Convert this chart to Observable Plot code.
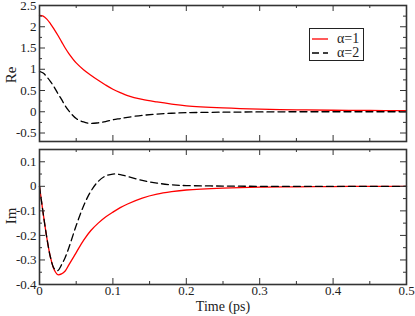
<!DOCTYPE html>
<html><head><meta charset="utf-8">
<script src="https://cdn.jsdelivr.net/npm/d3@7"></script>
<script src="https://cdn.jsdelivr.net/npm/@observablehq/plot@0.6"></script>
<style>
body{margin:0;background:#fff}
#c{position:relative;width:415px;height:316px;color:#222}
#c > div{position:absolute}
</style>
</head><body><div id="c" style="font-family:'Liberation Serif'"></div>
<script>
const time = [0,0.005,0.01,0.015,0.02,0.025,0.03,0.035,0.04,0.05,0.06,0.07,0.08,0.09,0.1,0.11,0.12,0.14,0.16,0.18,0.2,0.25,0.3,0.35,0.4,0.45,0.5];
const reAlpha1 = [2.27,2.25,2.18,2.07,1.94,1.80,1.65,1.50,1.37,1.15,0.99,0.86,0.74,0.63,0.53,0.45,0.38,0.29,0.23,0.18,0.14,0.09,0.06,0.045,0.035,0.03,0.025];
const reAlpha2 = [0.95,0.91,0.82,0.71,0.58,0.43,0.29,0.14,0.02,-0.16,-0.24,-0.275,-0.26,-0.23,-0.19,-0.16,-0.13,-0.085,-0.055,-0.035,-0.022,-0.01,-0.004,0,0,0,0];
const imAlpha1 = [0,-0.11,-0.21,-0.29,-0.34,-0.36,-0.357,-0.345,-0.32,-0.27,-0.22,-0.18,-0.15,-0.125,-0.105,-0.087,-0.072,-0.048,-0.032,-0.022,-0.015,-0.007,-0.003,-0.002,-0.001,0,0];
const imAlpha2 = [0,-0.11,-0.21,-0.29,-0.335,-0.343,-0.32,-0.29,-0.25,-0.16,-0.08,-0.02,0.02,0.042,0.05,0.048,0.04,0.024,0.013,0.006,0.003,0.001,0,0,0,0,0];

const seriesNames = ["α=1","α=2"];
const xTicks = [0,0.1,0.2,0.3,0.4,0.5];
const xMinor = [0.05,0.15,0.25,0.35,0.45];
const reTicks = [-0.5,0,0.5,1,1.5,2,2.5];
const reMinor = [-0.25,0.25,0.75,1.25,1.75,2.25];
const imTicks = [-0.4,-0.3,-0.2,-0.1,0,0.1];
const imMinor = [-0.35,-0.25,-0.15,-0.05,0.05];

const W = 415, ML = 39, MR = 9;
const innerW = W - ML - MR;
const axisColor = "#333";
const fmt = d => String(d);
const FONT = "Liberation Serif";

function tickMarks(xMaj, xMin, yMaj, yMin, innerH) {
  const big = 6, small = 3;
  const m = [];
  const s = {stroke: axisColor, strokeWidth: 1};
  m.push(Plot.tickY(yMaj, {y: d => d, insetRight: innerW - big, ...s}));
  m.push(Plot.tickY(yMaj, {y: d => d, insetLeft: innerW - big, ...s}));
  m.push(Plot.tickY(yMin, {y: d => d, insetRight: innerW - small, ...s}));
  m.push(Plot.tickY(yMin, {y: d => d, insetLeft: innerW - small, ...s}));
  m.push(Plot.tickX(xMaj, {x: d => d, insetBottom: innerH - big, ...s}));
  m.push(Plot.tickX(xMaj, {x: d => d, insetTop: innerH - big, ...s}));
  m.push(Plot.tickX(xMin, {x: d => d, insetBottom: innerH - small, ...s}));
  m.push(Plot.tickX(xMin, {x: d => d, insetTop: innerH - small, ...s}));
  return m;
}

const reData = time.map((t, i) => ({t, a1: reAlpha1[i], a2: reAlpha2[i]}));
const imData = time.map((t, i) => ({t, a1: imAlpha1[i], a2: imAlpha2[i]}));

const styleObj = {fontFamily: FONT, fontSize: "13px", color: "#222", background: "transparent", overflow: "visible"};

const topH = 146, topMT = 5, topMB = 5;
const topPlot = Plot.plot({
  width: W, height: topH, marginLeft: ML, marginRight: MR, marginTop: topMT, marginBottom: topMB,
  style: styleObj,
  x: {domain: [0, 0.5], axis: null},
  y: {domain: [-0.7, 2.5], axis: null},
  marks: [
    Plot.line(reData, {x: "t", y: "a1", stroke: "#ff0000", strokeWidth: 1.3, curve: "catmull-rom"}),
    Plot.line(reData, {x: "t", y: "a2", stroke: "#000", strokeWidth: 1.3, strokeDasharray: "7,4", curve: "catmull-rom"}),
    ...tickMarks(xTicks, xMinor, reTicks, reMinor, topH - topMT - topMB),
    Plot.axisY(reTicks, {tickSize: 0, tickPadding: 3, tickFormat: fmt, fontSize: 13, fontFamily: FONT, label: null}),
    Plot.frame({stroke: axisColor, strokeWidth: 1.6})
  ]
});

const botH = 172, botMT = 5, botMB = 32;
const botPlot = Plot.plot({
  width: W, height: botH, marginLeft: ML, marginRight: MR, marginTop: botMT, marginBottom: botMB,
  style: styleObj,
  x: {domain: [0, 0.5], axis: null},
  y: {domain: [-0.4, 0.15], axis: null},
  marks: [
    Plot.line(imData, {x: "t", y: "a1", stroke: "#ff0000", strokeWidth: 1.3, curve: "catmull-rom"}),
    Plot.line(imData, {x: "t", y: "a2", stroke: "#000", strokeWidth: 1.3, strokeDasharray: "7,4", curve: "catmull-rom"}),
    ...tickMarks(xTicks, xMinor, imTicks, imMinor, botH - botMT - botMB),
    Plot.axisY(imTicks, {tickSize: 0, tickPadding: 3, tickFormat: fmt, fontSize: 13, fontFamily: FONT, label: null}),
    Plot.axisX(xTicks, {tickSize: 0, tickPadding: 1, tickFormat: fmt, fontSize: 13, fontFamily: FONT, label: null}),
    Plot.frame({stroke: axisColor, strokeWidth: 1.6})
  ]
});

const c = document.getElementById("c");
function place(el, left, topPx) { const d = document.createElement("div"); d.style.left = left + "px"; d.style.top = topPx + "px"; d.appendChild(el); c.appendChild(d); return d; }
place(topPlot, 0, 0);
place(botPlot, 0, 144);

function label(text, x, y, rotate, size) {
  const d = document.createElement("div");
  d.textContent = text;
  d.style.cssText = "font-family:'Liberation Serif';white-space:nowrap;line-height:1;font-size:" + size + "px;left:" + x + "px;top:" + y + "px;transform:translate(-50%,-50%)" + (rotate ? " rotate(-90deg)" : "");
  c.appendChild(d);
}
label("Re", 11, 75, true, 15);
label("Im", 11, 216, true, 15);
label("Time (ps)", 223, 307, false, 14);

const leg = document.createElement("div");
leg.style.cssText = "left:309px;top:28px;width:53px;height:31px;border:1px solid #222;background:#fff;font-family:'Liberation Serif';font-size:14px;line-height:13px;padding:0";
const colors = ["#ff0000", "#000"];
const dashes = [null, "7,4"];
seriesNames.forEach((name, i) => {
  const row = document.createElement("div");
  row.style.cssText = "position:absolute;left:1px;top:" + (3 + i * 14) + "px;white-space:nowrap;height:13px";
  const svg = d3.create("svg").attr("width", 18).attr("height", 13).style("vertical-align", "top");
  svg.append("line").attr("x1", 1).attr("x2", 17).attr("y1", 7).attr("y2", 7).attr("stroke", colors[i]).attr("stroke-width", 1.3).attr("stroke-dasharray", dashes[i]);
  row.appendChild(svg.node());
  const sp = document.createElement("span");
  sp.textContent = name;
  sp.style.cssText = "position:absolute;left:26px;top:0px;line-height:13px;font-family:'Liberation Serif'";
  row.appendChild(sp);
  leg.appendChild(row);
});
c.appendChild(leg);
</script>
</body></html>
